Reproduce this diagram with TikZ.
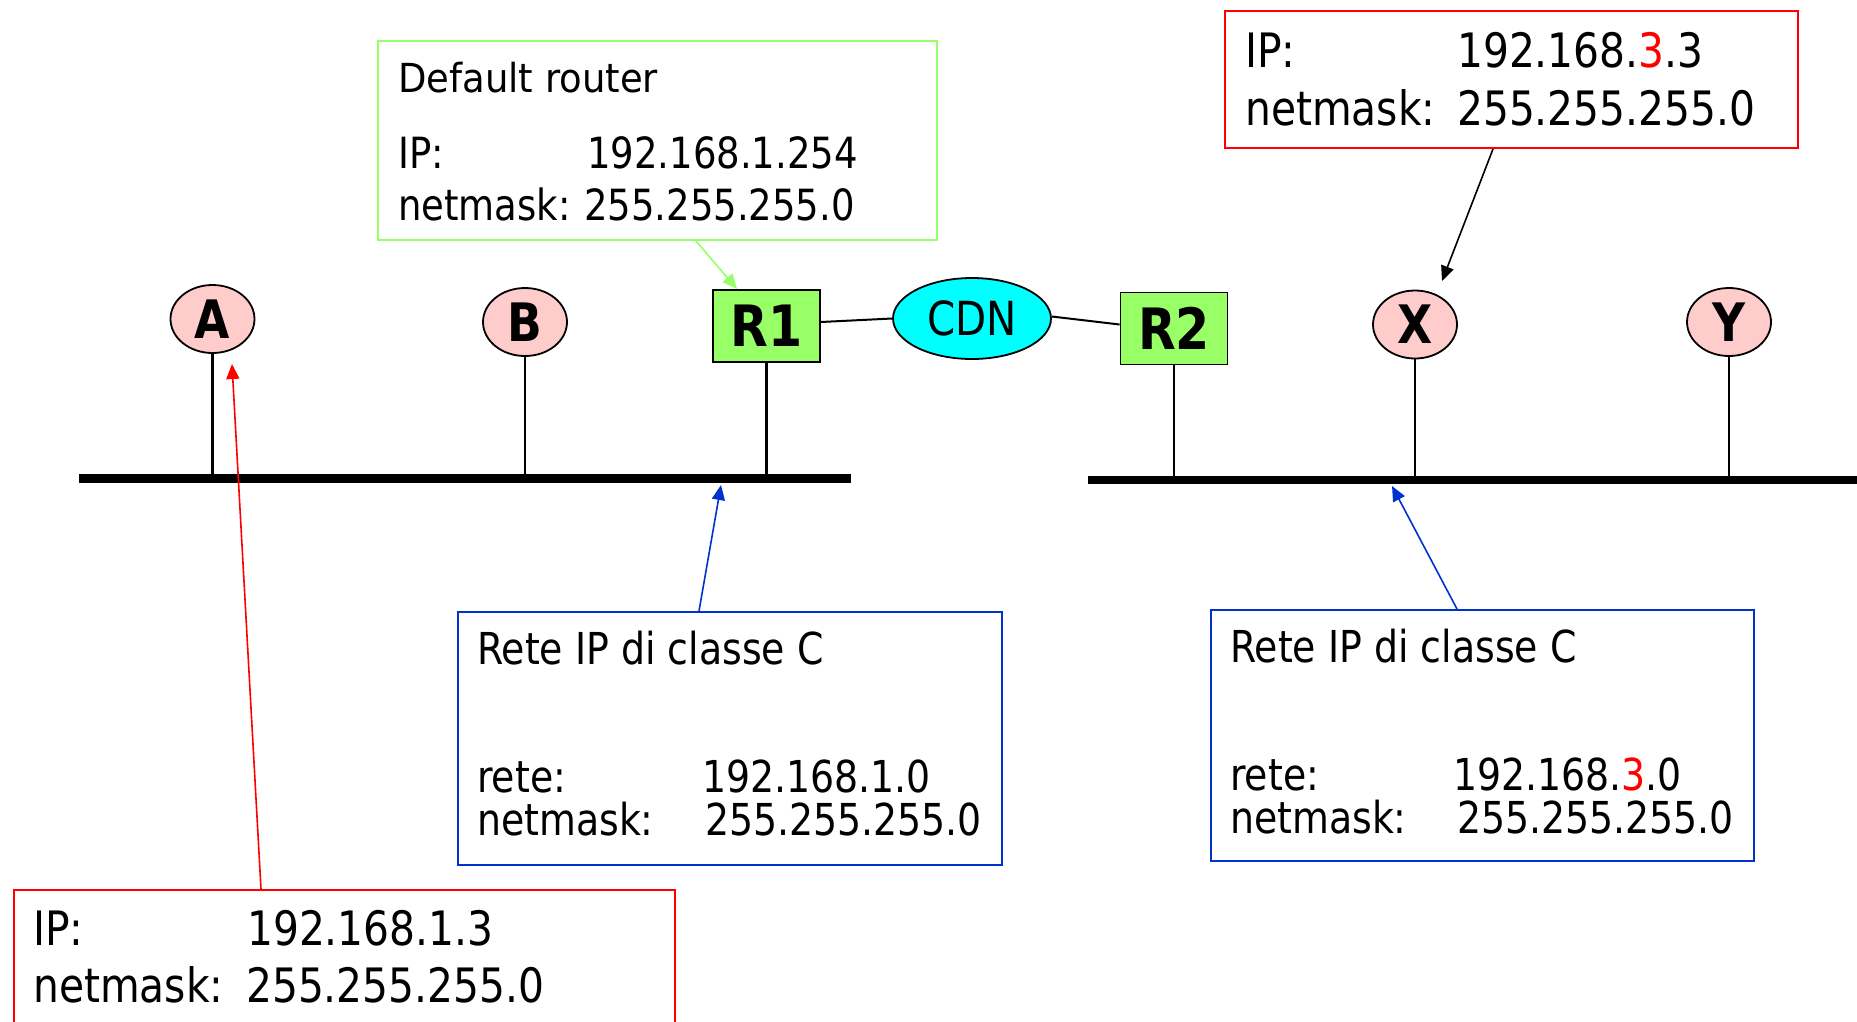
\documentclass[tikz,border=0pt]{standalone}
\usepackage{graphicx}
\usepackage{fontspec}
\setmainfont{DejaVu Sans}[FakeStretch=0.86]
\usetikzlibrary{shapes.geometric,arrows.meta}
\definecolor{pinkA}{RGB}{255,204,204}
\definecolor{lgreen}{RGB}{153,255,102}
\definecolor{cdncyan}{RGB}{0,255,255}
\definecolor{blueB}{RGB}{0,51,204}
\definecolor{redR}{RGB}{255,0,0}
\tikzset{
  host/.style={ellipse, draw=black, line width=1.8pt, fill=pinkA, minimum width=84pt, minimum height=68pt, inner sep=0pt, font=\fontsize{53}{53}\selectfont\bfseries},
  router/.style={rectangle, draw=black, line width=1.8pt, fill=lgreen, minimum width=107pt, minimum height=72pt, inner sep=0pt, font=\fontsize{57}{57}\selectfont\bfseries},
  cloudnode/.style={ellipse, draw=black, line width=1.8pt, fill=cdncyan, minimum width=158pt, minimum height=81pt, inner sep=0pt, font=\fontsize{47}{47}\selectfont},
  infobox/.style={rectangle, line width=2pt, anchor=north west, inner sep=0pt},
  txtG/.style={anchor=base west, inner sep=0pt, font=\fontsize{43}{50}\selectfont},
  txtB/.style={anchor=base west, inner sep=0pt, font=\fontsize{44}{50}\selectfont},
  txtR/.style={anchor=base west, inner sep=0pt, font=\fontsize{47.4}{55}\selectfont},
  bus/.style={line width=8.5pt},
  stem/.style={line width=2.2pt},
  link/.style={line width=2pt},
  ptr/.style={line width=1.6pt, -{Triangle[length=15pt,width=13pt]}},
}
\begin{document}
\begin{tikzpicture}[x=1pt,y=-1pt]
\useasboundingbox (0,0) rectangle (1857,1021);
\clip (0,0) rectangle (1857,1021);

% buses
\coordinate (busL1) at (79,478.5);
\coordinate (busL2) at (851,478.5);
\coordinate (busR1) at (1088,480);
\coordinate (busR2) at (1857,480);
\draw[bus] (busL1) -- (busL2);
\draw[bus] (busR1) -- (busR2);

% hosts and routers
\node[host] (A) at (212.5,319) {A};
\node[host] (B) at (525,322) {B};
\node[host] (X) at (1415,324.5) {X};
\node[host] (Y) at (1729,322) {Y};
\node[router] (R1) at (766.5,326) {R1};
\node[router] (R2) at (1174,328.5) {R2};
\node[cloudnode] (CDN) at (972,318.5) {CDN};

% stems
\draw[stem] (A.south) -- (A.south |- busL1);
\draw[stem] (B.south) -- (B.south |- busL1);
\draw[stem] (R1.south) -- (R1.south |- busL1);
\draw[stem] (R2.south) -- (R2.south |- busR1);
\draw[stem] (X.south) -- (X.south |- busR1);
\draw[stem] (Y.south) -- (Y.south |- busR1);

% links to CDN
\draw[link] ([yshift=4pt]R1.east) -- (CDN.west);
\draw[link] ([yshift=2pt]CDN.east) -- ([yshift=4pt]R2.west);

% green box
\node[infobox, draw=lgreen, minimum width=559pt, minimum height=199pt] (gbox) at (377,40) {};
\node[txtG] (gt1) at (398,92) {\scalebox{1}[0.93]{Default router}};
\node[txtG] (gt2) at (398,168) {IP:};
\node[txtG] (gt3) at (587,168) {192.168.1.254};
\node[txtG] (gt4) at (398,220) {netmask:};
\node[txtG] (gt5) at (584,220) {255.255.255.0};

% top right red box
\node[infobox, draw=redR, minimum width=573pt, minimum height=137pt] (ipX) at (1224,10) {};
\node[txtR] (xt1) at (1245,67) {IP:};
\node[txtR] (xt2) at (1457,67) {192.168.\textcolor{redR}{3}.3};
\node[txtR] (xt3) at (1245,125) {netmask:};
\node[txtR] (xt4) at (1457,125) {255.255.255.0};

% bottom left red box
\node[infobox, draw=redR, minimum width=661pt, minimum height=160pt] (ipA) at (13,889) {};
\node[txtR] (at1) at (33,945) {IP:};
\node[txtR] (at2) at (247,945) {192.168.1.3};
\node[txtR] (at3) at (33,1002) {netmask:};
\node[txtR] (at4) at (246,1002) {255.255.255.0};

% left blue box
\node[infobox, draw=blueB, minimum width=544pt, minimum height=253pt] (blL) at (457,611) {};
\node[txtB] (lt1) at (477,664) {Rete IP di classe C};
\node[txtB] (lt2) at (477,792) {rete:};
\node[txtB] (lt3) at (702,792) {192.168.1.0};
\node[txtB] (lt4) at (477,835) {netmask:};
\node[txtB] (lt5) at (705,835) {255.255.255.0};

% right blue box
\node[infobox, draw=blueB, minimum width=543pt, minimum height=251pt] (blR) at (1210,609) {};
\node[txtB] (rt1) at (1230,662) {Rete IP di classe C};
\node[txtB] (rt2) at (1230,790) {rete:};
\node[txtB] (rt3) at (1453,790) {192.168.\textcolor{redR}{3}.0};
\node[txtB] (rt4) at (1230,833) {netmask:};
\node[txtB] (rt5) at (1457,833) {255.255.255.0};

% pointers
\coordinate (tipA) at (232,364);
\coordinate (tipX) at (1442,281);
\coordinate (tipBL) at (721,485);
\coordinate (tipBR) at (1392,486);
\draw[ptr, draw=redR, fill=redR] ([xshift=248pt]ipA.north west) -- (tipA);
\draw[ptr, draw=lgreen, fill=lgreen] ([xshift=319pt]gbox.south west) -- ([xshift=25pt]R1.north west);
\draw[ptr, draw=black, fill=black] ([xshift=269pt]ipX.south west) -- (tipX);
\draw[ptr, draw=blueB, fill=blueB] ([xshift=242pt]blL.north west) -- (tipBL);
\draw[ptr, draw=blueB, fill=blueB] ([xshift=247pt]blR.north west) -- (tipBR);
\end{tikzpicture}
\end{document}
